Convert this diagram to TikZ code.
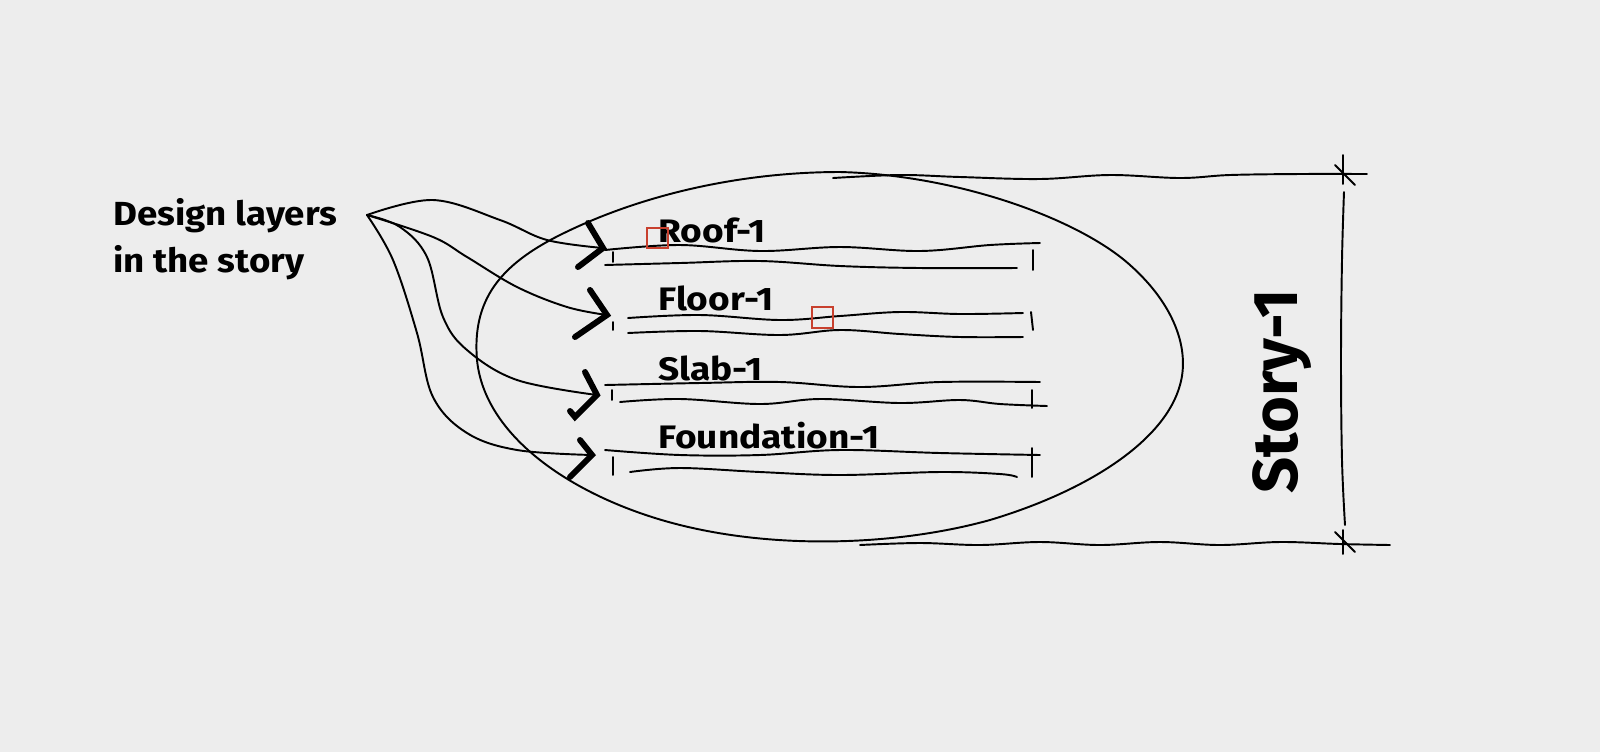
\documentclass[tikz,border=0pt]{standalone}
\usepackage{fontspec}
\setmainfont{Fira Sans}
\definecolor{bg}{HTML}{EDEDED}
\definecolor{redmark}{HTML}{C8402E}
\begin{document}
\begin{tikzpicture}[x=0.02cm,y=-0.02cm,
  sk/.style={line width=1.1pt, black, line cap=round, line join=round},
  chev/.style={line width=3.4pt, black, line cap=round, line join=miter},
  lbl/.style={font=\bfseries\fontsize{18.5}{22}\selectfont, inner sep=0pt, anchor=base west},
  redbox/.style={draw=redmark, line width=0.9pt}]
\fill[bg] (0,0) rectangle (1600,752);
\useasboundingbox (0,0) rectangle (1600,752);

% left label
\node[lbl, font=\bfseries\fontsize{19}{22}\selectfont, xscale=1.1] (t1) at (113,225) {Design layers};
\node[lbl, font=\bfseries\fontsize{19}{22}\selectfont, xscale=1.1] (t2) at (113,272) {in the story};

% layer labels
\node[lbl, xscale=1.14] (roof) at (658,242) {Roof-1};
\node[lbl, xscale=1.14] (floor) at (658,310) {Floor-1};
\node[lbl, xscale=1.14] (slab) at (658,380) {Slab-1};
\node[lbl, xscale=1.14] (found) at (658,448) {Foundation-1};
\node[font=\bfseries\fontsize{36}{40}\selectfont, inner sep=0pt, rotate=90] (story) at (1282,391) {Story-1};

% source and tips
\coordinate (src) at (367,215);
\coordinate (tipA) at (603,248);
\coordinate (tipB) at (607,315);
\coordinate (tipC) at (597,395);
\coordinate (tipD) at (592,455);

% connectors
\draw[sk] plot[smooth, tension=0.6] coordinates {(src) (433,200) (500,220) (547,240) (tipA)};
\draw[sk] plot[smooth, tension=0.6] coordinates {(src) (433,237) (467,257) (517,287) (567,307) (tipB)};
\draw[sk] plot[smooth, tension=0.6] coordinates {(src) (400,227) (427,257) (443,317) (467,350) (517,380) (tipC)};
\draw[sk] plot[smooth, tension=0.6] coordinates {(src) (393,260) (417,333) (433,397) (467,433) (517,450) (tipD)};

% chevrons
\draw[chev] (588,223) -- (tipA) -- (578,267);
\draw[chev] (590,290) -- (tipB) -- (575,337);
\draw[chev] (585,372) -- (tipC) -- (575,417) -- (570,411);
\draw[chev] (580,440) -- (tipD) -- (570,477);

% ellipse
\draw[sk] (477,360) .. controls (472,300) and (500,265) .. (560,235)
  .. controls (640,195) and (740,172) .. (840,172)
  .. controls (960,175) and (1080,220) .. (1130,265)
  .. controls (1175,305) and (1190,350) .. (1180,385)
  .. controls (1165,440) and (1090,490) .. (990,520)
  .. controls (900,545) and (780,550) .. (680,525)
  .. controls (580,500) and (485,440) .. (477,360) -- cycle;

% roof lines
\draw[sk] plot[smooth, tension=0.6] coordinates {(605,250) (680,245) (760,251) (840,247) (920,251) (990,245) (1040,243)};
\draw[sk] plot[smooth, tension=0.6] coordinates {(605,265) (680,263) (760,261) (840,266) (920,268) (1017,268)};
\draw[sk] (613,252) -- (613,262);
\draw[sk] (1033,250) -- (1033,270);
% floor lines
\draw[sk] plot[smooth, tension=0.6] coordinates {(628,318) (700,315) (780,320) (840,316) (900,312) (960,314) (1023,313)};
\draw[sk] plot[smooth, tension=0.6] coordinates {(628,333) (700,331) (780,335) (840,330) (900,334) (960,337) (1023,337)};
\draw[sk] (613,322) -- (613,330);
\draw[sk] (1031,312) -- (1033,330);
% slab lines
\draw[sk] plot[smooth, tension=0.6] coordinates {(605,385) (700,383) (780,382) (860,387) (940,382) (1040,382)};
\draw[sk] plot[smooth, tension=0.6] coordinates {(620,402) (680,399) (760,404) (820,399) (900,403) (960,400) (1000,404) (1047,406)};
\draw[sk] (612,390) -- (612,400);
\draw[sk] (1032,390) -- (1032,408);
% foundation lines
\draw[sk] plot[smooth, tension=0.6] coordinates {(605,450) (680,455) (760,455) (840,450) (940,453) (1040,455)};
\draw[sk] plot[smooth, tension=0.6] coordinates {(630,472) (680,468) (760,472) (840,475) (940,472) (1000,474) (1017,477)};
\draw[sk] (613,457) -- (613,475);
\draw[sk] (1032,448) -- (1032,477);

% dimension lines
\draw[sk] plot[smooth, tension=0.6] coordinates {(833,178) (900,175) (960,177) (1040,179) (1110,175) (1180,178) (1230,175) (1300,174) (1367,174)};
\draw[sk] plot[smooth, tension=0.6] coordinates {(860,545) (920,543) (980,545) (1040,542) (1100,545) (1160,542) (1220,545) (1280,542) (1340,544) (1390,545)};
\draw[sk] (1343,155) -- (1343,184);
\draw[sk] (1335,165) -- (1355,185);
\draw[sk] (1343,530) -- (1343,554);
\draw[sk] (1335,532) -- (1355,552);
\draw[sk] plot[smooth, tension=0.6] coordinates {(1344,192) (1342,260) (1341,360) (1342,460) (1345,525)};

% red markers
\draw[redbox] (647,228) rectangle (668,248);
\draw[redbox] (812,307) rectangle (833,328);
\end{tikzpicture}
\end{document}
